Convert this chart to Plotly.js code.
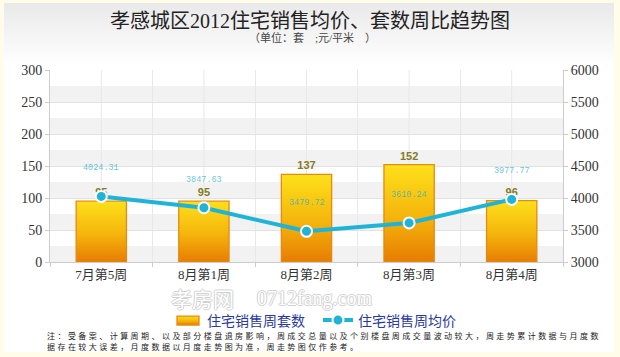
<!DOCTYPE html>
<html>
<head>
<meta charset="utf-8">
<script src="https://cdn.plot.ly/plotly-3.0.1.min.js"></script>
<style>
  html, body { margin: 0; padding: 0; background: #fffcea; }
  #wrap { position: relative; width: 620px; height: 357px; background: #fffcea; overflow: hidden; }
  #panel { position: absolute; left: 4px; top: 3px; width: 610px; height: 349px;
           background: linear-gradient(to bottom, #e9e9e9 0px, #ffffff 62px, #ffffff 100%); }
  #chart { position: absolute; left: 0; top: 0; width: 620px; height: 357px; }
</style>
</head>
<body>
<div id="wrap">
  <div id="panel"></div>
  <div id="chart"></div>
</div>
<script>
// ---- data ----
const weeks = ['7月第5周', '8月第1周', '8月第2周', '8月第3周', '8月第4周'];
const unitCounts = [95, 95, 137, 152, 96];
const avgPrices = [4024.31, 3847.63, 3479.72, 3610.24, 3977.77];
const seriesNames = ['住宅销售周套数', '住宅销售周均价'];
const titleText = '孝感城区2012住宅销售均价、套数周比趋势图';
const subtitleText = '（单位：套　;元/平米　）';
const noteLine1 = '注：受备案、计算周期、以及部分楼盘退房影响，周成交总量以及个别楼盘周成交量波动较大，周走势累计数据与月度数';
const noteLine2 = '据存在较大误差，月度数据以月度走势图为准，周走势图仅作参考。';
const watermarkCn = '孝房网';
const watermarkEn = '0712fang.com';

// ---- helpers (pixel -> paper) ----
const PL = 50, PR = 563, PT = 70, PB = 262;
const px = x => (x - PL) / (PR - PL);
const py = y => (PB - y) / (PB - PT);

const serif = '"Liberation Serif", "Noto Sans CJK SC", serif';
const cjk = '"Noto Sans CJK SC", "Liberation Sans", sans-serif';
const wmShadow = '-1px 0 #d2d2d2, 1px 0 #d2d2d2, 0 1px #d2d2d2, 0 -1px #d2d2d2';

const barTrace = {
  type: 'bar', name: seriesNames[0], x: weeks, y: unitCounts, yaxis: 'y',
  width: 0.49,
  marker: { color: '#f6b80c', line: { color: '#e68a12', width: 1.3 } },
  texttemplate: '%{y}', textposition: 'outside', cliponaxis: false,
  textfont: { family: '"Liberation Sans", Arial, sans-serif', size: 11, color: '#857a1d', weight: 'bold' },
  hoverinfo: 'skip'
};
const lineTrace = {
  type: 'scatter', mode: 'lines+markers', name: seriesNames[1], x: weeks, y: avgPrices, yaxis: 'y2',
  line: { color: '#1fb3d8', width: 4 },
  marker: { color: '#1fb3d8', size: 11, line: { color: '#ffffff', width: 2 } },
  cliponaxis: false, hoverinfo: 'skip'
};

const shapes = [];
for (let v = 0; v < 300; v += 50) {
  shapes.push({ type: 'rect', xref: 'paper', x0: 0, x1: 1, yref: 'y', y0: v, y1: v + 25,
                fillcolor: '#f2f2f2', line: { width: 0 }, layer: 'below' });
}
weeks.forEach(w => shapes.push({ type: 'line', xref: 'x', x0: w, x1: w, yref: 'paper', y0: 0, y1: 1,
  line: { color: '#e8e8e8', width: 1 }, layer: 'below' }));

const annotations = [
  { text: titleText, xref: 'paper', yref: 'paper', x: px(310), y: py(21), showarrow: false,
    xanchor: 'center', yanchor: 'middle', font: { family: serif, size: 20, color: '#222' } },
  { text: subtitleText, xref: 'paper', yref: 'paper', x: px(312), y: py(37), showarrow: false,
    xanchor: 'center', yanchor: 'middle', font: { family: serif, size: 11, color: '#444' } },
  { text: watermarkCn, xref: 'paper', yref: 'paper', x: px(202), y: py(297.5), showarrow: false,
    xanchor: 'center', yanchor: 'middle',
    font: { family: cjk, size: 21, color: '#ffffff', shadow: wmShadow } },
  { text: watermarkEn, xref: 'paper', yref: 'paper', x: px(314), y: py(298.5), showarrow: false,
    xanchor: 'center', yanchor: 'middle',
    font: { family: serif, size: 20, color: '#ffffff', shadow: wmShadow } },
  { text: noteLine1, xref: 'paper', yref: 'paper', x: px(45), y: py(335.5), showarrow: false,
    xanchor: 'left', yanchor: 'middle', align: 'left',
    font: { family: cjk, size: 8, color: '#222' } },
  { text: noteLine2, xref: 'paper', yref: 'paper', x: px(45), y: py(346.5), showarrow: false,
    xanchor: 'left', yanchor: 'middle', align: 'left',
    font: { family: cjk, size: 8, color: '#222' } }
];
weeks.forEach((w, i) => annotations.push({
  text: avgPrices[i].toFixed(2), xref: 'x', yref: 'y2', x: w, y: avgPrices[i], yshift: 28,
  showarrow: false, xanchor: 'center', yanchor: 'middle',
  font: { family: '"Liberation Mono", "DejaVu Sans Mono", monospace', size: 8.5, color: 'rgba(40,172,205,0.72)' }
}));

const layout = {
  width: 620, height: 357,
  margin: { l: PL, r: 620 - PR, t: PT, b: 357 - PB, pad: 0 },
  paper_bgcolor: 'rgba(0,0,0,0)', plot_bgcolor: '#ffffff',
  showlegend: true,
  legend: { orientation: 'h', x: px(167), y: py(320.5), xanchor: 'left', yanchor: 'middle',
            entrywidth: 106, entrywidthmode: 'pixels',
            bgcolor: 'rgba(0,0,0,0)', font: { family: cjk, size: 14, color: '#2a3a9c' },
            traceorder: 'normal', itemclick: false },
  xaxis: { type: 'category', tickson: 'boundaries', showgrid: true, gridcolor: '#e8e8e8',
           showline: true, linecolor: '#cccccc', ticks: 'outside', ticklen: 4, tickcolor: '#cccccc',
           tickfont: { family: serif, size: 13, color: '#333' }, zeroline: false, fixedrange: true },
  yaxis: { range: [0, 300], dtick: 50, showgrid: true, gridcolor: '#e2e2e2',
           showline: true, linecolor: '#cccccc', ticks: 'outside', ticklen: 4, tickcolor: '#cccccc',
           tickfont: { family: serif, size: 14, color: '#333' }, zeroline: false, fixedrange: true },
  yaxis2: { range: [3000, 6000], dtick: 500, overlaying: 'y', side: 'right', showgrid: false,
            showline: true, linecolor: '#cccccc', ticks: 'outside', ticklen: 4, tickcolor: '#cccccc',
            tickfont: { family: serif, size: 14, color: '#333' }, zeroline: false, fixedrange: true },
  shapes: shapes,
  annotations: annotations,
  bargap: 0.5
};

Plotly.newPlot('chart', [barTrace, lineTrace], layout, { staticPlot: true, displayModeBar: false }).then(gd => {
  const ns = 'http://www.w3.org/2000/svg';
  const svg = gd.querySelector('svg.main-svg');
  let defs = svg.querySelector('defs');
  if (!defs) { defs = document.createElementNS(ns, 'defs'); svg.insertBefore(defs, svg.firstChild); }
  const lg = document.createElementNS(ns, 'linearGradient');
  lg.setAttribute('id', 'barGrad');
  lg.setAttribute('x1', '0'); lg.setAttribute('y1', '0'); lg.setAttribute('x2', '0'); lg.setAttribute('y2', '1');
  [['0%', '#fde01a'], ['55%', '#f4b40c'], ['100%', '#e77c02']].forEach(([o, c]) => {
    const s = document.createElementNS(ns, 'stop');
    s.setAttribute('offset', o); s.setAttribute('stop-color', c); lg.appendChild(s);
  });
  defs.appendChild(lg);
  gd.querySelectorAll('.barlayer .point path').forEach(p => { p.style.fill = 'url(#barGrad)'; });
  const legTraces = gd.querySelectorAll('.legend .traces');
  if (legTraces.length) {
    legTraces[0].querySelectorAll('.legendpoints path').forEach(p => {
      p.setAttribute('d', 'M-10,-4h22v9h-22z');
      p.style.fill = 'url(#barGrad)';
    });
  }
  // widen the footnote letter spacing like the reference
  gd.querySelectorAll('.annotation-text').forEach(t => {
    const s = t.textContent;
    if (s === noteLine1 || s === noteLine2) t.style.letterSpacing = '2.45px';
  });
});
</script>
</body>
</html>
